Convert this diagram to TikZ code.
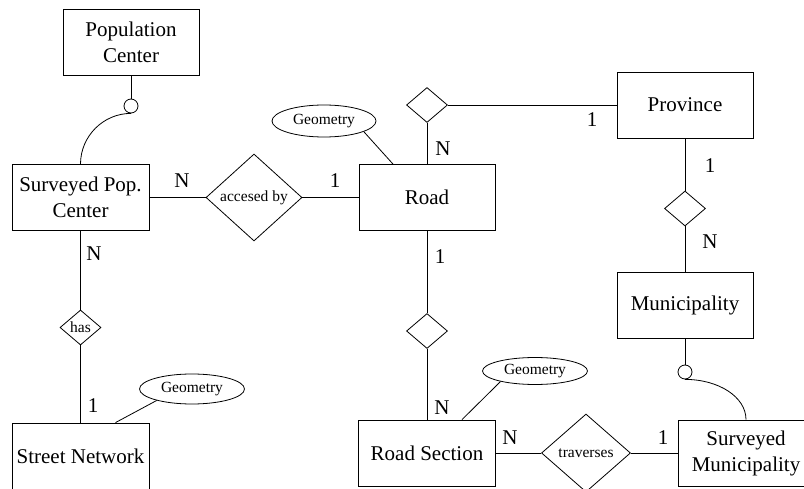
\documentclass[tikz,border=0pt]{standalone}
\usepackage{fontspec}
\setmainfont{Liberation Serif}
\usetikzlibrary{shapes.geometric}
\tikzset{
  entity/.style={draw, rectangle, minimum width=136pt, minimum height=66pt, inner sep=0pt,
    align=center, font=\fontsize{21}{26}\selectfont},
  rel/.style={draw, diamond, inner sep=0pt, aspect=1.1, font=\fontsize{15.5}{18}\selectfont},
  smallrel/.style={draw, diamond, inner sep=0pt, minimum width=41pt, minimum height=35pt,
    font=\fontsize{15.5}{18}\selectfont},
  attr/.style={draw, ellipse, inner sep=0pt, font=\fontsize{15.5}{18}\selectfont},
  marker/.style={draw, circle, minimum size=14pt, inner sep=0pt},
  card/.style={inner sep=0pt, font=\fontsize{21}{26}\selectfont}
}
\begin{document}
\begin{tikzpicture}[x=1pt, y=-1pt, line width=0.8pt]
\useasboundingbox (0,0) rectangle (804,489);
\clip (0,0) rectangle (804,489);

% entities
\node[entity] (popc) at (131,42) {Population\\Center};
\node[entity, minimum width=137pt] (spc) at (80.5,197.5) {Surveyed Pop.\\Center};
\node[entity] (road) at (427,197.5) {Road};
\node[entity] (prov) at (685,105) {Province};
\node[entity] (muni) at (685,305) {Municipality};
\node[entity, minimum width=137pt] (rsec) at (427,453) {Road Section};
\node[entity] (smun) at (746,453) {Surveyed\\Municipality};
\node[entity, minimum width=137pt] (stn) at (80.5,456) {Street Network};

% relationships
\node[rel, minimum width=96pt, minimum height=87pt] (acc) at (254,197.5) {accesed by};
\node[rel, minimum width=89pt, minimum height=78pt] (trav) at (586,453) {traverses};
\node[smallrel] (has) at (80.5,327.5) {has};
\node[smallrel] (rp) at (427,105) {};
\node[smallrel] (pm) at (685,208.5) {};
\node[smallrel] (rr) at (427,331) {};

% attributes
\node[attr, minimum width=104pt, minimum height=32pt] (geoa) at (324,121) {Geometry};
\node[attr, minimum width=105pt, minimum height=30pt] (geob) at (192,389) {Geometry};
\node[attr, minimum width=105pt, minimum height=27pt] (geoc) at (535,371) {Geometry};

% subset markers
\node[marker] (mka) at (131,106) {};
\node[marker] (mkb) at (685,372) {};

% connectors
\draw (popc.south) -- (mka.north);
\draw (mka.south) .. controls +(-27.6,0) and +(0,-28) .. (spc.north);
\draw (muni.south) -- (mkb.north);
\draw (mkb.south) .. controls +(33.7,0) and +(0,-22.6) .. (smun.north);

\draw (spc.east) -- (acc.west);
\draw (acc.east) -- (road.west);
\draw (spc.south) -- (has.north);
\draw (has.south) -- (stn.north);
\draw (road.north) -- (rp.south);
\draw (rp.east) -- (prov.west);
\draw (prov.south) -- (pm.north);
\draw (pm.south) -- (muni.north);
\draw (road.south) -- (rr.north);
\draw (rr.south) -- (rsec.north);
\draw (rsec.east) -- (trav.west);
\draw (trav.east) -- (smun.west);

\draw (geoa.-15) -- ([xshift=-34pt]road.north);
\draw (geob.-162) -- ([xshift=35pt]stn.north);
\draw (geoc.-163) -- ([xshift=35pt]rsec.north);

% cardinalities
\node[card] (c1) at (182,181) {N};
\node[card] (c2) at (335,181) {1};
\node[card] (c3) at (443,149) {N};
\node[card] (c4) at (592,120) {1};
\node[card] (c5) at (710,166) {1};
\node[card] (c6) at (710,242) {N};
\node[card] (c7) at (94,254) {N};
\node[card] (c8) at (93,406) {1};
\node[card] (c9) at (440,257) {1};
\node[card] (c10) at (442,408) {N};
\node[card] (c11) at (510,438) {N};
\node[card] (c12) at (663,438) {1};
\end{tikzpicture}
\end{document}
